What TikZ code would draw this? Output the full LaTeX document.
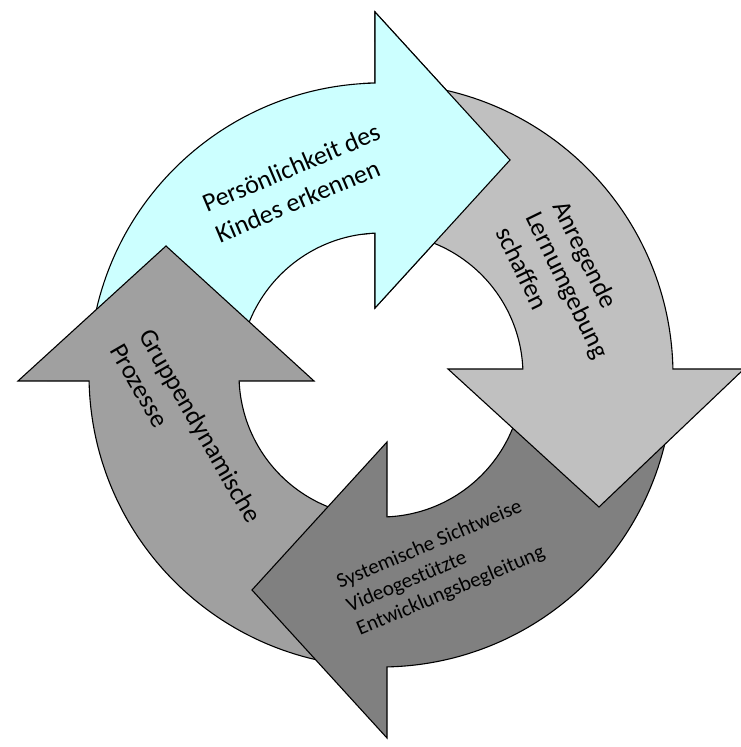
\documentclass[tikz,border=0pt]{standalone}
\usepackage{fontspec}
\setmainfont{Carlito}
\definecolor{cyanfill}{RGB}{204,255,255}
\definecolor{lightfill}{RGB}{192,192,192}
\definecolor{midfill}{RGB}{160,160,160}
\definecolor{darkfill}{RGB}{128,128,128}
\begin{document}
\begin{tikzpicture}[x=1pt,y=1pt,
  ringarrow/.style={draw=black, line width=1.1pt, line join=miter},
  lbl/.style={inner sep=0pt, anchor=base west, font=\fontsize{26}{31}\selectfont},
  lblsmall/.style={inner sep=0pt, anchor=base west, font=\fontsize{21}{25}\selectfont}]
\useasboundingbox (0,0) rectangle (740,747);
% top arrow (cyan)
\begin{scope}[shift={(381,372)}]
\path[ringarrow, fill=cyanfill] (175:292) arc[start angle=175, end angle=91.18, radius=292] -- (-6,363) -- (129,215) -- (-6,67) -- (92.42:142) arc[start angle=92.42, end angle=175, radius=142] -- cycle;
\end{scope}
% left arrow
\begin{scope}[shift={(381,372)}, rotate=90]
\path[ringarrow, fill=midfill] (175:292) arc[start angle=175, end angle=91.18, radius=292] -- (-6,363) -- (129,215) -- (-6,67) -- (92.42:142) arc[start angle=92.42, end angle=175, radius=142] -- cycle;
\end{scope}
% bottom arrow
\begin{scope}[shift={(381,372)}, rotate=-180]
\path[ringarrow, fill=darkfill] (175:292) arc[start angle=175, end angle=91.18, radius=292] -- (-6,363) -- (129,215) -- (-6,67) -- (92.42:142) arc[start angle=92.42, end angle=175, radius=142] -- cycle;
\end{scope}
% right arrow
\begin{scope}[shift={(381,372)}, rotate=-90]
\path[ringarrow, fill=lightfill] (175:292) arc[start angle=175, end angle=91.18, radius=292] -- (-6,363) -- (132,218) -- (-6,67) -- (92.42:142) arc[start angle=92.42, end angle=175, radius=142] -- cycle;
\end{scope}
% cyan arrow head again on top
\begin{scope}
\clip (361,372) rectangle (740,747);
\begin{scope}[shift={(381,372)}]
\path[ringarrow, fill=cyanfill] (175:292) arc[start angle=175, end angle=91.18, radius=292] -- (-6,363) -- (129,215) -- (-6,67) -- (92.42:142) arc[start angle=92.42, end angle=175, radius=142] -- cycle;
\end{scope}
\end{scope}
% labels
\node[lbl, rotate=23] (p1) at (207,534) {Persönlichkeit des};
\node[lbl, rotate=23] (p2) at (220,503.6) {Kindes erkennen};
\node[lbl, rotate=-64] (a1) at (552,541) {Anregende};
\node[lbl, rotate=-64] (a2) at (525,530) {Lernumgebung};
\node[lbl, rotate=-64] (a3) at (495,515) {schaffen};
\node[lbl, rotate=-60] (g1) at (138,412) {Gruppendynamische};
\node[lbl, rotate=-60] (g2) at (109,397) {Prozesse};
\node[lblsmall, rotate=23] (s1) at (340,158) {Systemische Sichtweise};
\node[lblsmall, rotate=23] (s2) at (350,134.5) {Videogestützte};
\node[lblsmall, rotate=23] (s3) at (360,111) {Entwicklungsbegleitung};
\end{tikzpicture}
\end{document}
